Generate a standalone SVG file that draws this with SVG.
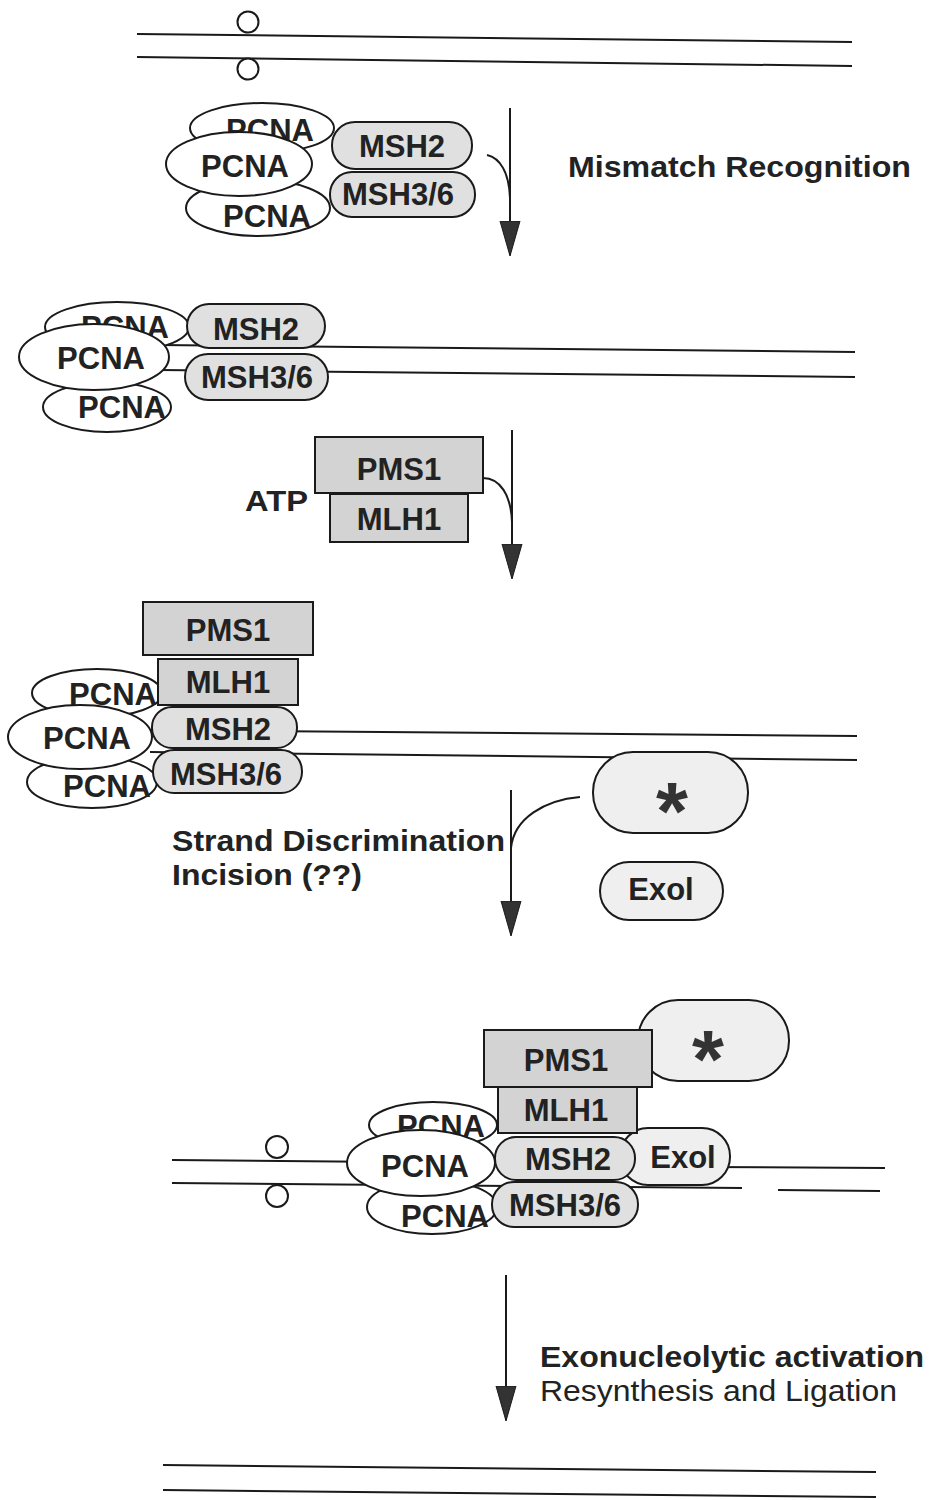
<svg xmlns="http://www.w3.org/2000/svg" width="930" height="1500" viewBox="0 0 930 1500">
<style>
.dna{stroke:#1a1a1a;stroke-width:2;fill:none}
.ov{fill:#fff;stroke:#1a1a1a;stroke-width:2}
.msh{fill:#e0e0e0;stroke:#1a1a1a;stroke-width:2}
.pms{fill:#d3d3d3;stroke:#1a1a1a;stroke-width:2}
.star{fill:#efefef;stroke:#1a1a1a;stroke-width:2}
.t{font-family:"Liberation Sans",Arial,sans-serif;font-weight:bold;font-size:31px;fill:#222;text-anchor:middle}
.lab{font-family:"Liberation Sans",Arial,sans-serif;font-weight:bold;font-size:30px;fill:#222}
.reg{font-family:"Liberation Sans",Arial,sans-serif;font-size:30px;fill:#222}
.st{font-family:"Liberation Sans",Arial,sans-serif;font-weight:bold;font-size:82px;fill:#333;text-anchor:middle}
.arr{stroke:#1a1a1a;stroke-width:2;fill:none}
</style>
<defs>
<marker id="ah" markerUnits="userSpaceOnUse" markerWidth="36" markerHeight="22" refX="34" refY="11" orient="auto" viewBox="0 0 36 22">
<path d="M0,1 L35,11 L0,21 Z" fill="#333" stroke="#1a1a1a" stroke-width="1"/>
</marker>
</defs>

<g id="dna">
<line class="dna" x1="137" y1="34" x2="852" y2="42"/>
<line class="dna" x1="137" y1="57" x2="852" y2="66"/>
<circle class="ov" cx="248" cy="22" r="10.5"/>
<circle class="ov" cx="248" cy="69" r="10.5"/>
<line class="dna" x1="160" y1="345" x2="855" y2="352"/>
<line class="dna" x1="160" y1="370" x2="855" y2="377"/>
<line class="dna" x1="150" y1="730" x2="857" y2="736"/>
<line class="dna" x1="150" y1="752" x2="857" y2="760"/>
<line class="dna" x1="172" y1="1160" x2="500" y2="1163"/>
<line class="dna" x1="172" y1="1183" x2="742" y2="1188"/>
<line class="dna" x1="778" y1="1190" x2="880" y2="1191"/>
<line class="dna" x1="700" y1="1167" x2="885" y2="1168"/>
<circle class="ov" cx="277" cy="1147" r="11"/>
<circle class="ov" cx="277" cy="1196" r="11"/>
<line class="dna" x1="163" y1="1465" x2="876" y2="1472"/>
<line class="dna" x1="163" y1="1490" x2="876" y2="1497"/>
</g>

<g id="complex1">
<ellipse class="ov" cx="262" cy="128" rx="72" ry="25"/>
<text class="t" x="270" y="141">PCNA</text>
<ellipse class="ov" cx="258" cy="208" rx="72" ry="28"/>
<text class="t" x="267" y="227">PCNA</text>
<ellipse class="ov" cx="239" cy="164" rx="73" ry="32"/>
<text class="t" x="245" y="177">PCNA</text>
<rect class="msh" x="332" y="122" width="140" height="47" rx="23"/>
<text class="t" x="402" y="157">MSH2</text>
<rect class="msh" x="330" y="172" width="145" height="45" rx="22"/>
<text class="t" x="398" y="205">MSH3/6</text>
</g>

<g id="complex2">
<ellipse class="ov" cx="117" cy="327" rx="72" ry="25"/>
<text class="t" x="125" y="338">PCNA</text>
<ellipse class="ov" cx="107" cy="407" rx="64" ry="25"/>
<text class="t" x="122" y="418">PCNA</text>
<ellipse class="ov" cx="94" cy="357" rx="75" ry="33"/>
<text class="t" x="101" y="369">PCNA</text>
<rect class="msh" x="187" y="304" width="138" height="44" rx="22"/>
<text class="t" x="256" y="340">MSH2</text>
<rect class="msh" x="185" y="354" width="143" height="46" rx="23"/>
<text class="t" x="257" y="388">MSH3/6</text>
</g>

<g id="pms1mlh1">
<rect class="pms" x="330" y="494" width="138" height="48"/>
<text class="t" x="399" y="530">MLH1</text>
<rect class="pms" x="315" y="437" width="168" height="56"/>
<text class="t" x="399" y="480">PMS1</text>
<text class="lab" x="245" y="511" textLength="63" lengthAdjust="spacingAndGlyphs">ATP</text>
</g>

<g id="complex3">
<ellipse class="ov" cx="97" cy="693" rx="65" ry="24"/>
<text class="t" x="113" y="705">PCNA</text>
<ellipse class="ov" cx="92" cy="782" rx="65" ry="26"/>
<text class="t" x="107" y="797">PCNA</text>
<ellipse class="ov" cx="80" cy="737" rx="72" ry="32"/>
<text class="t" x="87" y="749">PCNA</text>
<rect class="msh" x="152" y="707" width="145" height="41" rx="20"/>
<text class="t" x="228" y="740">MSH2</text>
<rect class="msh" x="153" y="750" width="149" height="43" rx="21"/>
<text class="t" x="226" y="785">MSH3/6</text>
<rect class="pms" x="158" y="659" width="140" height="46"/>
<text class="t" x="228" y="693">MLH1</text>
<rect class="pms" x="143" y="602" width="170" height="53"/>
<text class="t" x="228" y="641">PMS1</text>
</g>

<g id="star1">
<rect class="star" x="593" y="752" width="155" height="81" rx="40"/>
<text class="st" x="672" y="839">*</text>
</g>
<g id="exo1">
<rect class="star" x="600" y="862" width="123" height="58" rx="29"/>
<text class="t" x="661" y="900">Exol</text>
</g>
<g id="label3">
<text class="lab" x="172" y="851" textLength="333" lengthAdjust="spacingAndGlyphs">Strand Discrimination</text>
<text class="lab" x="172" y="885" textLength="190" lengthAdjust="spacingAndGlyphs">Incision (??)</text>
</g>

<g id="complex4">
<rect class="star" x="638" y="1000" width="151" height="81" rx="40"/>
<text class="st" x="708" y="1087">*</text>
<ellipse class="ov" cx="433" cy="1125" rx="64" ry="23"/>
<text class="t" x="441" y="1137">PCNA</text>
<ellipse class="ov" cx="432" cy="1207" rx="65" ry="27"/>
<text class="t" x="445" y="1227">PCNA</text>
<ellipse class="ov" cx="421" cy="1163" rx="74" ry="33"/>
<text class="t" x="425" y="1177">PCNA</text>
<rect class="star" x="620" y="1128" width="110" height="57" rx="28"/>
<text class="t" x="683" y="1168">Exol</text>
<rect class="msh" x="495" y="1137" width="140" height="43" rx="21"/>
<text class="t" x="568" y="1170">MSH2</text>
<rect class="msh" x="492" y="1182" width="146" height="45" rx="22"/>
<text class="t" x="565" y="1216">MSH3/6</text>
<rect class="pms" x="498" y="1087" width="139" height="46"/>
<text class="t" x="566" y="1121">MLH1</text>
<rect class="pms" x="484" y="1030" width="168" height="57"/>
<text class="t" x="566" y="1071">PMS1</text>
</g>

<g id="labels">
<text class="lab" x="568" y="177" textLength="343" lengthAdjust="spacingAndGlyphs">Mismatch Recognition</text>
<text class="lab" x="540" y="1367" textLength="384" lengthAdjust="spacingAndGlyphs">Exonucleolytic activation</text>
<text class="reg" x="540" y="1401" textLength="357" lengthAdjust="spacingAndGlyphs">Resynthesis and Ligation</text>
</g>

<g id="connectors">
<line class="arr" x1="510" y1="108" x2="510" y2="255" marker-end="url(#ah)"/>
<path class="arr" d="M487,155 C500,158 509,172 510,198"/>
<line class="arr" x1="512" y1="430" x2="512" y2="578" marker-end="url(#ah)"/>
<path class="arr" d="M483,478 C500,478 511,495 512,522"/>
<line class="arr" x1="511" y1="790" x2="511" y2="935" marker-end="url(#ah)"/>
<path class="arr" d="M580,797 C545,800 514,818 511,848"/>
<line class="arr" x1="506" y1="1275" x2="506" y2="1420" marker-end="url(#ah)"/>
</g>
</svg>
